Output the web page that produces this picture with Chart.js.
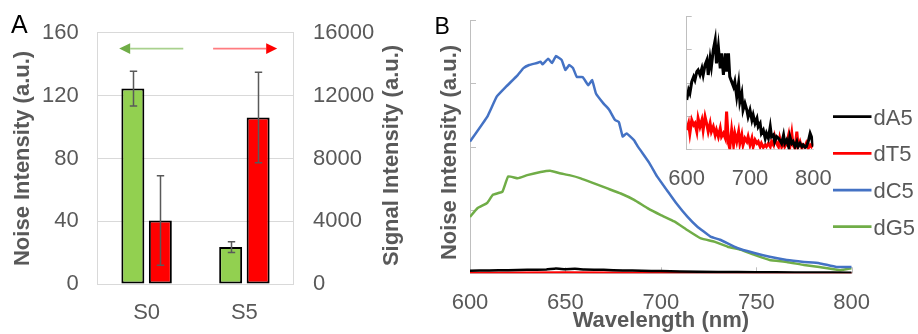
<!DOCTYPE html>
<html><head><meta charset="utf-8">
<script src="https://cdn.jsdelivr.net/npm/chart.js@4"></script>
<style>
html,body{margin:0;padding:0;background:#fff;width:918px;height:334px;overflow:hidden}
canvas{position:absolute;top:0}
</style></head><body>
<canvas id="a" width="420" height="334" style="left:0"></canvas>
<canvas id="b" width="498" height="334" style="left:420px"></canvas>
<canvas id="ins" width="200" height="200" style="left:640px"></canvas>
<script>
// ---------- Panel A data ----------
const categories = ['S0', 'S5'];
const noiseValues = [124.5, 23.5];
const noiseErrors = [11, 3.5];
const signalValues = [4040, 10610];
const signalErrors = [2850, 2890];
const noiseTicks = [0, 40, 80, 120, 160];
const signalTicks = [0, 4000, 8000, 12000, 16000];

// ---------- Panel B main data ----------
const seriesNames = ['dA5', 'dT5', 'dC5', 'dG5'];
const wlA5 = [600,610,620,630,640,645,650,655,660,670,680,690,700,720,740,760,780,800];
const valA5 = [0.04,0.045,0.05,0.055,0.06,0.075,0.065,0.07,0.06,0.055,0.045,0.04,0.035,0.025,0.02,0.015,0.012,0.01];
const wlT5 = [600,650,700,750,800];
const valT5 = [0.005,0.012,0.006,0.003,0.002];
const wlC5 = [600,609,614,619,625,628,631,635,637,638,641,643,645,648,650,652,654,656,659,662,664,666,670,673,676,678,680,682,686,688,694,698,703,708,714,719,726,731,740,749,757,766,775,783,792,800];
const valC5 = [2.08,2.47,2.79,2.95,3.13,3.24,3.29,3.32,3.34,3.30,3.39,3.32,3.43,3.37,3.21,3.29,3.24,3.10,3.10,2.97,3.05,2.84,2.68,2.58,2.42,2.39,2.16,2.21,2.10,2.00,1.74,1.53,1.32,1.11,0.89,0.74,0.58,0.53,0.40,0.32,0.26,0.21,0.18,0.16,0.10,0.10];
const wlG5 = [600,604,609,612,617,620,625,630,637,642,647,652,658,665,672,679,686,693,700,707,714,721,728,735,742,749,757,766,775,783,794,800];
const valG5 = [0.89,1.03,1.11,1.24,1.29,1.53,1.50,1.55,1.60,1.62,1.58,1.55,1.50,1.42,1.34,1.26,1.16,1.03,0.92,0.82,0.68,0.55,0.50,0.42,0.37,0.29,0.21,0.18,0.13,0.10,0.05,0.08];
const wlTicks = [600, 650, 700, 750, 800];
const noiseBTicks = [0, 1, 2, 3, 4];

// ---------- Inset data ----------
const insetWl = [600,603,605,608,611,613,616,618,621,624,626,629,632,634,637,639,642,645,647,650,653,655,658,661,663,666,668,671,674,676,679,682,684,687,689,692,695,697,700,703,705,708,711,713,716,718,721,724,726,729,732,734,737,739,742,745,747,750,753,755,758,761,763,766,768,771,774,776,779,782,784,787,789,792,795,797,800];
const insetA5 = [1.48,1.78,1.68,2.03,2.18,2.08,2.33,2.38,2.23,2.43,
 2.23,2.53,2.68,2.23,2.73,2.48,2.98,3.28,2.58,3.08,
 2.43,2.88,2.23,2.88,2.33,2.88,2.18,2.03,1.88,2.03,
 1.58,1.98,1.43,1.68,1.18,1.38,1.18,0.98,1.18,0.88,
 1.03,0.78,0.93,0.68,0.78,0.48,0.58,0.33,0.48,0.33,
 0.68,0.38,0.43,0.23,0.38,0.33,0.28,0.18,0.43,0.18,
 0.28,0.08,0.38,0.18,0.23,0.08,0.23,0.08,0.18,0.08,
 0.13,0.06,0.08,0.23,0.48,0.38,0.08];
const insetT5 = [0.58,0.78,0.48,0.88,0.73,0.78,0.53,0.93,0.68,0.88,
 0.58,0.98,0.73,0.53,0.78,0.53,0.68,0.43,0.58,0.38,
 0.63,0.38,0.48,0.33,1.13,0.18,0.03,0.58,0.13,0.48,
 0.23,0.53,0.18,0.43,0.13,0.33,0.23,0.38,0.13,0.33,
 0.08,0.28,0.18,0.23,0.08,0.18,0.06,0.13,0.08,0.18,
 0.08,0.23,0.13,0.38,0.18,0.08,0.33,0.08,0.23,0.08,
 0.18,0.43,0.08,0.48,0.13,0.03,0.53,0.08,0.23,0.03,
 0.13,0.08,0.18,0.03,0.13,0.08,0.18];
const insetTicksX = [600, 700, 800];
const insetTicksY = [0, 1, 2, 3, 4];

// ---------- styles ----------
const FAM = '"Liberation Sans", Arial, sans-serif';
const GRAY = '#595959';
const C_BLACK = '#000000', C_RED = '#FF0000', C_BLUE = '#4472C4', C_GREEN = '#70AD47', C_BARGREEN = '#92D050';
Chart.defaults.font.family = FAM;
Chart.defaults.color = GRAY;
const pts = (xs, ys) => xs.map((x, i) => ({x: x, y: ys[i]}));
const fixTicks = arr => function (s) { s.ticks = arr.map(v => ({value: v})); };
const plain = v => String(v);

// ---------- plugins ----------
const extraText = {
  id: 'extraText',
  afterDraw(chart, args, opts) {
    const ctx = chart.ctx;
    (opts.items || []).forEach(t => {
      ctx.save();
      ctx.font = t.font; ctx.fillStyle = t.color;
      ctx.translate(t.x, t.y);
      if (t.rot) ctx.rotate(t.rot);
      ctx.textAlign = t.align || 'left';
      ctx.textBaseline = t.baseline || 'alphabetic';
      ctx.fillText(t.text, 0, 0);
      ctx.restore();
    });
  }
};
const errorBars = {
  id: 'errorBars',
  afterDatasetsDraw(chart, args, opts) {
    const ctx = chart.ctx;
    ctx.save();
    ctx.strokeStyle = opts.color; ctx.lineWidth = opts.width;
    chart.data.datasets.forEach((ds, di) => {
      const meta = chart.getDatasetMeta(di);
      const ys = chart.scales[ds.yAxisID];
      const errs = opts.errors[di];
      meta.data.forEach((bar, i) => {
        const v = ds.data[i], e = errs[i];
        const x = Math.round(bar.x) + 0.5;
        const t = ys.getPixelForValue(v + e), b = ys.getPixelForValue(v - e);
        ctx.beginPath();
        ctx.moveTo(x, t); ctx.lineTo(x, b);
        ctx.moveTo(x - opts.cap, t); ctx.lineTo(x + opts.cap, t);
        ctx.moveTo(x - opts.cap, b); ctx.lineTo(x + opts.cap, b);
        ctx.stroke();
      });
    });
    ctx.restore();
  }
};
const arrows = {
  id: 'arrows',
  afterDatasetsDraw(chart, args, opts) {
    const ctx = chart.ctx, xs = chart.scales.x, ys = chart.scales.y;
    opts.items.forEach(a => {
      const y = ys.getPixelForValue(a.y);
      const x0 = xs.getPixelForValue(a.from), x1 = xs.getPixelForValue(a.to);
      const dir = Math.sign(x1 - x0);
      const hb = x1 - dir * opts.head;
      ctx.save();
      ctx.strokeStyle = a.line; ctx.lineWidth = 1.75;
      ctx.beginPath(); ctx.moveTo(x0, y); ctx.lineTo(hb, y); ctx.stroke();
      ctx.fillStyle = a.headColor;
      ctx.beginPath(); ctx.moveTo(x1, y); ctx.lineTo(hb, y - opts.half); ctx.lineTo(hb, y + opts.half); ctx.closePath(); ctx.fill();
      ctx.restore();
    });
  }
};
const inwardTicks = {
  id: 'inwardTicks',
  beforeDatasetsDraw(chart, args, opts) {
    const ctx = chart.ctx;
    ctx.save(); ctx.strokeStyle = opts.color; ctx.lineWidth = 1;
    (opts.y || []).forEach(id => {
      const s = chart.scales[id];
      s.ticks.forEach(t => {
        const y = Math.round(s.getPixelForValue(t.value)) + 0.5;
        ctx.beginPath(); ctx.moveTo(s.right, y); ctx.lineTo(s.right + opts.len, y); ctx.stroke();
      });
    });
    (opts.x || []).forEach(id => {
      const s = chart.scales[id];
      s.ticks.forEach(t => {
        const x = Math.round(s.getPixelForValue(t.value)) + 0.5;
        ctx.beginPath(); ctx.moveTo(x, s.top); ctx.lineTo(x, s.top - opts.len); ctx.stroke();
      });
    });
    ctx.restore();
  }
};
const sideLegend = {
  id: 'sideLegend',
  afterDraw(chart, args, opts) {
    const ctx = chart.ctx;
    ctx.save();
    ctx.font = opts.font; ctx.textBaseline = 'alphabetic'; ctx.textAlign = 'left';
    chart.data.datasets.forEach((ds, i) => {
      const y = opts.rows[i];
      ctx.strokeStyle = ds.borderColor; ctx.lineWidth = 2.75;
      ctx.beginPath(); ctx.moveTo(opts.x0, y); ctx.lineTo(opts.x1, y); ctx.stroke();
      ctx.fillStyle = GRAY;
      ctx.fillText(ds.label, opts.tx, y + 8);
    });
    ctx.restore();
  }
};

// ---------- Chart A ----------
new Chart(document.getElementById('a'), {
  type: 'bar',
  data: {
    labels: categories,
    datasets: [
      {label: 'Noise', data: noiseValues, yAxisID: 'y', backgroundColor: C_BARGREEN, borderColor: '#000', borderWidth: 2, borderSkipped: false},
      {label: 'Signal', data: signalValues, yAxisID: 'y2', backgroundColor: C_RED, borderColor: '#000', borderWidth: 2, borderSkipped: false}
    ]
  },
  options: {
    responsive: false, animation: false, devicePixelRatio: 1,
    layout: {padding: {top: 30, left: 0, right: 0, bottom: 0}},
    categoryPercentage: 0.562, barPercentage: 0.836,
    plugins: {
      legend: {display: false}, tooltip: {enabled: false},
      errorBars: {errors: [noiseErrors, signalErrors], color: GRAY, width: 1.5, cap: 3.7},
      arrows: {head: 11, half: 5.3, items: [
        {y: 150, from: 0.375, to: -0.28, line: '#A9D18E', headColor: C_GREEN},
        {y: 150, from: 0.68, to: 1.335, line: '#FF7C80', headColor: C_RED}
      ]},
      extraText: {items: [
        {text: 'A', x: 11, y: 33, font: '25px ' + FAM, color: '#000'},
        {text: 'Signal Intensity (a.u.)', x: 391.5, y: 155.5, rot: -Math.PI / 2, align: 'center', baseline: 'middle', font: 'bold 22px ' + FAM, color: GRAY}
      ]}
    },
    scales: {
      x: {
        grid: {display: false}, border: {display: true, color: '#D9D9D9'},
        ticks: {color: GRAY, font: {size: 22}, padding: 7.5},
        afterFit(s) { s.height = 50; }
      },
      y: {
        position: 'left', min: 0, max: 160, afterBuildTicks: fixTicks(noiseTicks),
        grid: {color: '#D9D9D9', drawTicks: false}, border: {display: true, color: '#D9D9D9'},
        ticks: {color: GRAY, font: {size: 22}, padding: 19, callback: plain},
        title: {display: true, text: 'Noise Intensity (a.u.)', color: GRAY, font: {size: 22, weight: 'bold'}, padding: {top: 10, bottom: 0}},
        afterFit(s) { s.width = 97.7; }
      },
      y2: {
        position: 'right', min: 0, max: 16000, afterBuildTicks: fixTicks(signalTicks),
        grid: {drawOnChartArea: false, drawTicks: false}, border: {display: true, color: '#D9D9D9'},
        ticks: {color: GRAY, font: {size: 22}, padding: 19.7, callback: plain},
        afterFit(s) { s.width = 126.7; }
      }
    }
  },
  plugins: [errorBars, arrows, extraText]
});

// ---------- Chart B ----------
const lineDs = (label, xs, ys, color, w, tension) => ({label: label, data: pts(xs, ys), borderColor: color, backgroundColor: color, borderWidth: w, pointRadius: 0, tension: tension, fill: false});
new Chart(document.getElementById('b'), {
  type: 'line',
  data: {
    datasets: [
      lineDs(seriesNames[0], wlA5, valA5, C_BLACK, 2.5, 0.1),
      lineDs(seriesNames[1], wlT5, valT5, C_RED, 2.5, 0.1),
      lineDs(seriesNames[2], wlC5, valC5, C_BLUE, 2.5, 0.1),
      lineDs(seriesNames[3], wlG5, valG5, C_GREEN, 2.5, 0.1)
    ]
  },
  options: {
    responsive: false, animation: false, devicePixelRatio: 1,
    layout: {padding: {top: 20, left: 0, right: 66.3, bottom: 0}},
    plugins: {
      legend: {display: false}, tooltip: {enabled: false},
      inwardTicks: {color: '#BFBFBF', len: 6, y: ['y'], x: ['x']},
      sideLegend: {x0: 413, x1: 451.5, tx: 453.5, rows: [116.7, 153.3, 190, 226.7], font: '22px ' + FAM},
      extraText: {items: [
        {text: 'B', x: 14.5, y: 34, font: '23px ' + FAM, color: '#000'},
        {text: 'Noise Intensity (a.u.)', x: 30, y: 152.5, rot: -Math.PI / 2, align: 'center', baseline: 'middle', font: 'bold 22px ' + FAM, color: GRAY}
      ]}
    },
    scales: {
      x: {
        type: 'linear', min: 600, max: 800, afterBuildTicks: fixTicks(wlTicks),
        grid: {display: false}, border: {display: true, color: '#BFBFBF'},
        ticks: {color: GRAY, font: {size: 22}, padding: 8.5, callback: plain},
        title: {display: true, text: 'Wavelength (nm)', color: GRAY, font: {size: 22, weight: 'bold'}, padding: 0},
        afterFit(s) { s.height = 60.7; }
      },
      y: {
        min: 0, max: 4, afterBuildTicks: fixTicks(noiseBTicks),
        grid: {display: false}, border: {display: true, color: '#BFBFBF'},
        ticks: {display: false},
        afterFit(s) { s.width = 50; }
      }
    }
  },
  plugins: [inwardTicks, sideLegend, extraText]
});

// ---------- Inset ----------
new Chart(document.getElementById('ins'), {
  type: 'line',
  data: {
    datasets: [
      lineDs(seriesNames[0], insetWl, insetA5, C_BLACK, 3, 0),
      lineDs(seriesNames[1], insetWl, insetT5, C_RED, 3, 0)
    ]
  },
  options: {
    responsive: false, animation: false, devicePixelRatio: 1,
    layout: {padding: {top: 16, left: 0, right: 26.7, bottom: 0}},
    plugins: {
      legend: {display: false}, tooltip: {enabled: false},
      inwardTicks: {color: '#BFBFBF', len: 5, y: ['y']}
    },
    scales: {
      x: {
        type: 'linear', min: 600, max: 800, afterBuildTicks: fixTicks(insetTicksX),
        grid: {display: false}, border: {display: true, color: '#D9D9D9'},
        ticks: {color: GRAY, font: {size: 22}, padding: 8, callback: plain},
        afterFit(s) { s.height = 50.7; }
      },
      y: {
        min: 0, max: 4, afterBuildTicks: fixTicks(insetTicksY),
        grid: {display: false}, border: {display: true, color: '#BFBFBF'},
        ticks: {display: false},
        afterFit(s) { s.width = 46.7; }
      }
    }
  },
  plugins: [inwardTicks]
});
</script>
</body></html>
